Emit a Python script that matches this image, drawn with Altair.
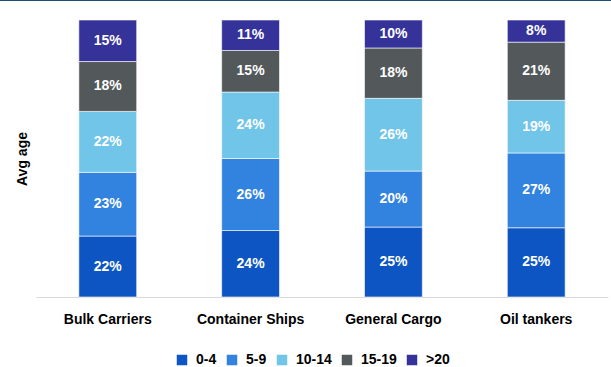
import altair as alt
import pandas as pd

categories = ["Bulk Carriers", "Container Ships", "General Cargo", "Oil tankers"]
age_groups = ["0-4", "5-9", "10-14", "15-19", ">20"]
share_0_4 = [22, 24, 25, 25]
share_5_9 = [23, 26, 20, 27]
share_10_14 = [22, 24, 26, 19]
share_15_19 = [18, 15, 18, 21]
share_20_plus = [15, 11, 10, 8]
colors = ["#0C55C2", "#3282E0", "#70C5E8", "#53585B", "#35339A"]

rows = []
for gi, (g, vals) in enumerate(zip(age_groups, [share_0_4, share_5_9, share_10_14, share_15_19, share_20_plus])):
    for c, v in zip(categories, vals):
        rows.append({"category": c, "group": g, "order": gi, "value": v})
df = pd.DataFrame(rows)

FONT = "Liberation Sans"

x_enc = alt.X(
    "category:N",
    sort=categories,
    scale=alt.Scale(paddingInner=0.595, paddingOuter=0.3),
    axis=alt.Axis(
        title=None, labelAngle=0, ticks=False, grid=False, domainColor="#d9d9d9", domainWidth=1,
        labelPadding=15, labelFontSize=14, labelFontWeight="bold", labelColor="black",
        labelFont=FONT,
    ),
)

base = (
    alt.Chart(df)
    .transform_stack(
        stack="value", groupby=["category"], as_=["y0", "y1"], offset="normalize",
        sort=[alt.SortField("order", order="ascending")],
    )
    .transform_calculate(ymid="(datum.y0 + datum.y1) / 2", label="datum.value + '%'")
)

bars = base.mark_bar(stroke="white", strokeWidth=0.6).encode(
    x=x_enc,
    y=alt.Y(
        "y0:Q",
        scale=alt.Scale(domain=[0, 1], nice=False),
        axis=alt.Axis(
            labels=False, ticks=False, domain=False, grid=False, title="Avg age",
            titleFontSize=14, titleFontWeight="bold", titleColor="black", titleFont=FONT,
            titlePadding=7,
        ),
    ),
    y2="y1:Q",
    color=alt.Color(
        "group:N",
        scale=alt.Scale(domain=age_groups, range=colors),
        legend=alt.Legend(
            orient="none", direction="horizontal", legendX=139, legendY=333, title=None,
            symbolType="square", symbolSize=110, symbolStrokeWidth=0, labelFontSize=14,
            labelFontWeight="bold", labelColor="black", labelFont=FONT, labelOffset=7,
            columnPadding=8,
        ),
    ),
    order=alt.Order("order:Q"),
)

labels = base.mark_text(color="white", fontWeight="bold", fontSize=14, font=FONT).encode(
    x=alt.X("category:N", sort=categories),
    y=alt.Y("ymid:Q"),
    text="label:N",
)

top_line = alt.Chart(alt.Data(values=[{}])).mark_rule(color="#1F4E79", strokeWidth=2).encode(
    x=alt.value(-36), x2=alt.value(575), y=alt.value(-20)
)

chart = (
    alt.layer(bars, labels, top_line)
    .properties(
        width=572, height=277,
        padding={"left": 36, "top": 20, "right": 3, "bottom": 70},
        autosize=alt.AutoSizeParams(type="none"),
    )
    .configure(font=FONT, background="white")
    .configure_view(strokeWidth=0, stroke="transparent")
)

chart.save("out.html", embed_options={"renderer": "svg", "actions": False})
